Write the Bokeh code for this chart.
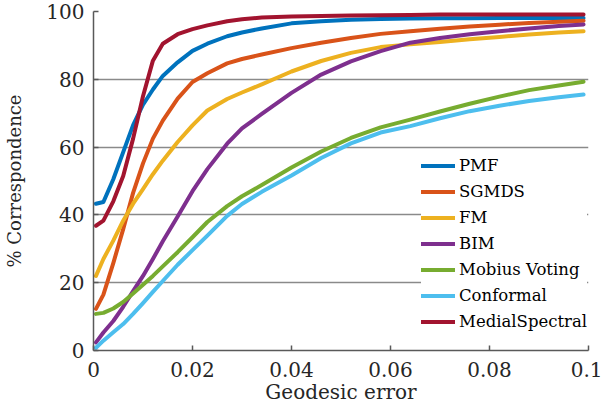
from bokeh.plotting import figure
from bokeh.models import Legend, LegendItem, FixedTicker, Range1d
from bokeh.embed import file_html
from bokeh.resources import INLINE

# Geodesic error sample points (shared x for all series)
geodesic_error = [0.0005, 0.002, 0.004, 0.006, 0.008, 0.010, 0.012, 0.014, 0.017, 0.020,
                  0.023, 0.027, 0.030, 0.034, 0.040, 0.046, 0.052, 0.058, 0.064, 0.070,
                  0.076, 0.082, 0.088, 0.094, 0.099]

pmf = [43.3, 43.8, 50.5, 58.5, 66.5, 72.5, 77.0, 81.0, 85.0, 88.4,
       90.5, 92.7, 93.8, 95.0, 96.5, 97.1, 97.6, 97.8, 97.9, 98.0,
       98.0, 98.1, 98.1, 98.1, 98.1]
sgmds = [12.3, 16.5, 25.8, 35.8, 46.5, 55.2, 62.5, 67.8, 74.3, 79.2,
         81.8, 84.7, 86.0, 87.3, 89.2, 90.8, 92.2, 93.4, 94.2, 94.9,
         95.6, 96.1, 96.6, 97.0, 97.3]
fm = [22.0, 27.0, 32.4, 38.3, 43.3, 47.6, 52.0, 56.0, 61.5, 66.4,
      70.8, 74.2, 76.1, 78.5, 82.3, 85.4, 87.8, 89.5, 90.3, 91.0,
      91.8, 92.5, 93.2, 93.8, 94.2]
bim = [2.4, 5.3, 8.7, 12.9, 17.5, 22.0, 27.0, 32.2, 39.5, 47.0,
       53.5, 61.0, 65.5, 69.8, 76.0, 81.4, 85.3, 88.3, 90.8, 92.2,
       93.3, 94.2, 95.0, 95.7, 96.2]
mobius = [10.8, 11.1, 12.4, 14.3, 16.8, 19.4, 22.0, 24.8, 29.0, 33.4,
          37.9, 42.6, 45.5, 48.8, 54.0, 58.7, 62.7, 65.8, 68.1, 70.5,
          72.8, 74.9, 76.8, 78.2, 79.3]
conformal = [0.8, 2.9, 5.4, 7.8, 10.8, 14.0, 17.3, 20.5, 25.3, 29.6,
             33.9, 39.7, 43.2, 46.8, 51.6, 56.8, 61.1, 64.3, 66.2, 68.5,
             70.6, 72.2, 73.6, 74.7, 75.5]
medial_spectral = [36.8, 38.3, 44.0, 51.5, 62.5, 75.0, 85.5, 90.5, 93.3, 94.8,
                   95.9, 97.1, 97.7, 98.2, 98.5, 98.7, 98.8, 98.9, 99.0, 99.1,
                   99.1, 99.1, 99.1, 99.1, 99.1]

series_names = ["PMF", "SGMDS", "FM", "BIM", "Mobius Voting", "Conformal", "MedialSpectral"]
series_values = [pmf, sgmds, fm, bim, mobius, conformal, medial_spectral]
series_colors = ["#0072BD", "#D95319", "#EDB120", "#7E2F8E", "#77AC30", "#4DBEEE", "#A2142F"]

x_ticks = [0, 0.02, 0.04, 0.06, 0.08, 0.1]
x_tick_labels = ["0", "0.02", "0.04", "0.06", "0.08", "0.1"]
y_ticks = [0, 20, 40, 60, 80, 100]

FONT = "DejaVu Serif"

p = figure(width=602, height=408, output_backend="svg", toolbar_location=None,
           x_range=Range1d(0, 0.1), y_range=Range1d(0, 100),
           min_border_left=93, min_border_right=14, min_border_top=11, min_border_bottom=58)
p.outline_line_color = None
p.background_fill_color = "white"

items = []
for name, vals, col in zip(series_names, series_values, series_colors):
    r = p.line(geodesic_error, vals, line_color=col, line_width=4, line_join="round", line_cap="round")
    items.append(LegendItem(label=name, renderers=[r]))

# axes
p.xaxis.ticker = FixedTicker(ticks=x_ticks)
p.xaxis.major_label_overrides = {t: l for t, l in zip(x_ticks, x_tick_labels)}
p.yaxis.ticker = FixedTicker(ticks=y_ticks)
for ax in (p.xaxis[0], p.yaxis[0]):
    ax.axis_line_color = "#595959"
    ax.axis_line_width = 1.5
    ax.major_tick_line_color = "#595959"
    ax.major_tick_line_width = 1.5
    ax.major_tick_in = 5
    ax.major_tick_out = 0
    ax.minor_tick_line_color = None
    ax.major_label_text_font = FONT
    ax.major_label_text_font_size = "20px"
    ax.major_label_text_color = "#262626"
    ax.axis_label_text_font = FONT
    ax.axis_label_text_font_style = "normal"
    ax.axis_label_text_color = "#262626"
p.xaxis.axis_label = "Geodesic error"
p.yaxis.axis_label = "% Correspondence"
p.xaxis.axis_label_text_font_size = "20px"
p.yaxis.axis_label_text_font_size = "18px"
p.xaxis.major_label_standoff = 11
p.yaxis.major_label_standoff = 9
p.xaxis.axis_label_standoff = 0
p.yaxis.axis_label_standoff = 18

p.xgrid.grid_line_color = None
p.ygrid.grid_line_color = "#8a8a8a"
p.ygrid.grid_line_width = 1.5

legend = Legend(items=items, location=(328, 16), padding=2, margin=0, spacing=1,
                glyph_width=34, glyph_height=25, label_height=25, label_standoff=4,
                label_text_font=FONT, label_text_font_size="16.5px", label_text_color="#000000",
                background_fill_color="white", background_fill_alpha=1.0,
                border_line_color=None)
p.add_layout(legend, "center")

open("out.html", "w").write(file_html(p, INLINE))
